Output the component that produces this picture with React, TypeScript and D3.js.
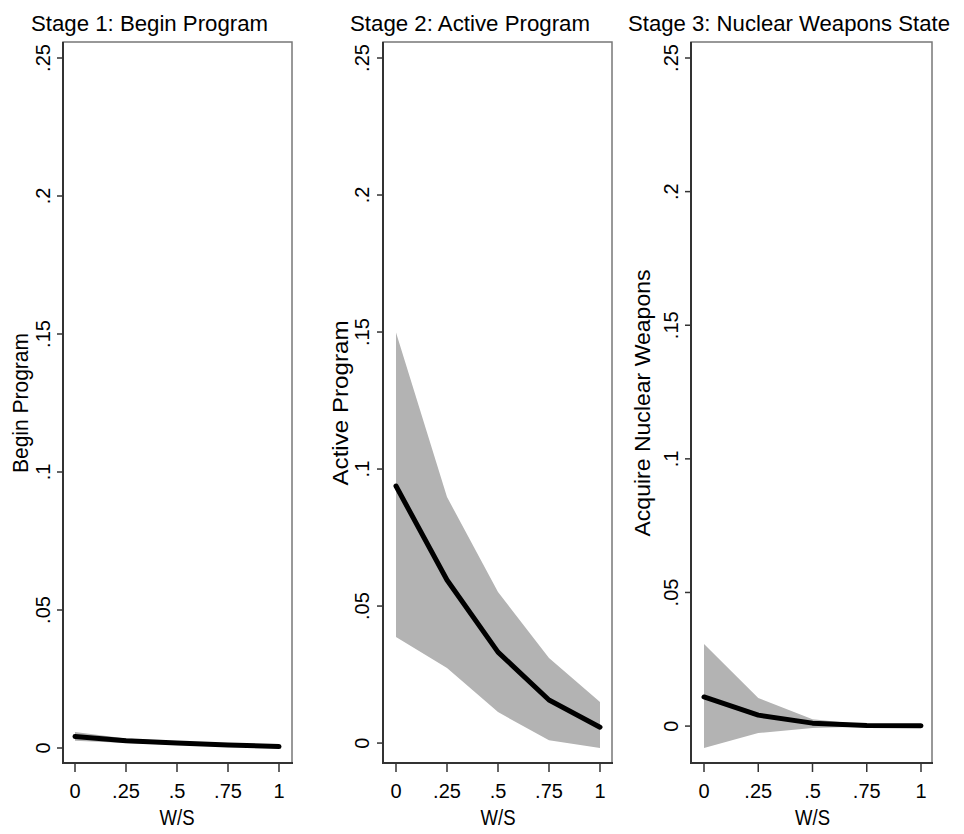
import React from 'react';
import * as d3 from 'd3';

// W/S grid used for the predicted probabilities
const wsValues = [0, 0.25, 0.5, 0.75, 1];
const xTicks = [0, 0.25, 0.5, 0.75, 1];
const xTickLabels = ['0', '.25', '.5', '.75', '1'];
const yTicks = [0, 0.05, 0.1, 0.15, 0.2, 0.25];
const yTickLabels = ['0', '.05', '.1', '.15', '.2', '.25'];

const panelTitles = ['Stage 1: Begin Program', 'Stage 2: Active Program', 'Stage 3: Nuclear Weapons State'];
const axisTitles = ['Begin Program', 'Active Program', 'Acquire Nuclear Weapons'];

// predicted probability and 95% band per stage
const beginMean = [0.0042, 0.0026, 0.0018, 0.0011, 0.0005];
const beginUpper = [0.0058, 0.0034, 0.0024, 0.0016, 0.0008];
const beginLower = [0.0026, 0.0018, 0.0012, 0.0007, 0.0002];

const activeMean = [0.0938, 0.0595, 0.0332, 0.0157, 0.0058];
const activeUpper = [0.1498, 0.0898, 0.0551, 0.031, 0.015];
const activeLower = [0.0387, 0.0274, 0.0113, 0.001, -0.0018];

const nuclearMean = [0.0109, 0.0041, 0.0011, 0.0002, 0.0001];
const nuclearUpper = [0.0307, 0.0105, 0.0026, 0.0005, 0.0002];
const nuclearLower = [-0.0082, -0.0026, -0.0007, -0.0002, -0.0001];

const means = [beginMean, activeMean, nuclearMean];
const uppers = [beginUpper, activeUpper, nuclearUpper];
const lowers = [beginLower, activeLower, nuclearLower];

// layout of each panel (pixels)
const layout = [
  { left: 63, right: 292, x0: 75, x1: 279, tickLab: 50, title: 31, titleLen: 237, axisTitle: 28, axisLen: 140 },
  { left: 383, right: 612, x0: 396, x1: 600, tickLab: 369, title: 350, titleLen: 240, axisTitle: 348, axisLen: 165 },
  { left: 691, right: 932, x0: 704, x1: 921, tickLab: 678, title: 628, titleLen: 322, axisTitle: 650, axisLen: 267 },
];

const frameTop = 42;
const frameBottom = 763;
const font = 'Liberation Sans, Arial, Helvetica, sans-serif';

const Panel = ({ i }: { i: number }) => {
  const L = layout[i];
  const mean = means[i];
  const up = uppers[i];
  const lo = lowers[i];
  const yMin = Math.min(0, d3.min(lo) as number);

  const x = d3.scaleLinear().domain([0, 1]).range([L.x0, L.x1]);
  const y = d3.scaleLinear().domain([yMin, 0.25]).range([748, 58]);

  const area = d3.area<number>()
    .x((_, k) => x(wsValues[k]))
    .y0((_, k) => y(lo[k]))
    .y1((_, k) => y(up[k]));
  const line = d3.line<number>()
    .x((_, k) => x(wsValues[k]))
    .y(d => y(d));

  const cx = (L.x0 + L.x1) / 2;
  const cy = 403;

  return (
    <g>
      <text x={L.title} y={31} fontSize={22} textLength={L.titleLen} lengthAdjust="spacingAndGlyphs" fill="#000">
        {panelTitles[i]}
      </text>
      <rect x={L.left} y={frameTop} width={L.right - L.left} height={frameBottom - frameTop}
        fill="#fff" stroke="#777" strokeWidth={1.5} />
      <path d={area(mean) || ''} fill="#b3b3b3" />
      <path d={line(mean) || ''} fill="none" stroke="#000" strokeWidth={5} strokeLinecap="round" strokeLinejoin="round" />
      <line x1={L.left} x2={L.left} y1={frameTop} y2={frameBottom + 1} stroke="#333" strokeWidth={2} />
      <line x1={L.left} x2={L.right + 1} y1={frameBottom} y2={frameBottom} stroke="#333" strokeWidth={2} />
      {yTicks.map((t, k) => (
        <g key={k}>
          <line x1={L.left - 6} x2={L.left} y1={y(t)} y2={y(t)} stroke="#333" strokeWidth={1.5} />
          <text transform={`translate(${L.tickLab},${y(t)}) rotate(-90)`} textAnchor="middle" fontSize={20} fill="#000">
            {yTickLabels[k]}
          </text>
        </g>
      ))}
      {xTicks.map((t, k) => (
        <g key={k}>
          <line x1={x(t)} x2={x(t)} y1={frameBottom} y2={frameBottom + 9} stroke="#333" strokeWidth={1.5} />
          <text x={x(t)} y={798} textAnchor="middle" fontSize={20} fill="#000">{xTickLabels[k]}</text>
        </g>
      ))}
      <text x={cx} y={825} textAnchor="middle" fontSize={22} textLength={35} lengthAdjust="spacingAndGlyphs" fill="#000">W/S</text>
      <text transform={`translate(${L.axisTitle},${cy}) rotate(-90)`} textAnchor="middle" fontSize={22}
        textLength={L.axisLen} lengthAdjust="spacingAndGlyphs" fill="#000">
        {axisTitles[i]}
      </text>
    </g>
  );
};

export default function App() {
  return (
    <svg width={964} height={834} style={{ display: 'block', margin: -8, fontFamily: font }}>
      <rect width={964} height={834} fill="#fff" />
      {[0, 1, 2].map(i => <Panel key={i} i={i} />)}
    </svg>
  );
}
